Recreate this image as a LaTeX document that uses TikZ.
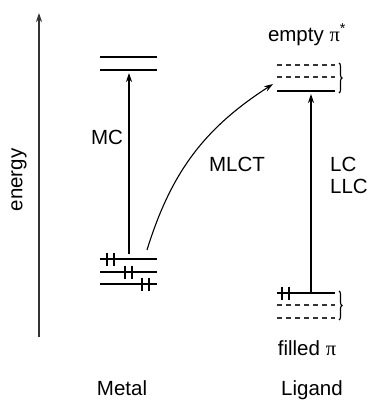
\documentclass[tikz,border=0pt]{standalone}
\usepackage{fontspec}
\setmainfont{Liberation Sans}
\newfontfamily\serifpi{Liberation Serif}
\usetikzlibrary{arrows.meta,decorations.pathreplacing}
\begin{document}
\begin{tikzpicture}[x=1pt,y=-1pt,
  level/.style={line width=1.8pt},
  dlevel/.style={line width=1.4pt,dash pattern=on 5pt off 4pt,black!80},
  tick/.style={line width=1.4pt},
  trans/.style={line width=1.1pt,-{Stealth[length=9pt,width=6pt]}},
  lbl/.style={font=\fontsize{20.5}{24}\selectfont,inner sep=0pt,anchor=base},
  brc/.style={line width=1.1pt,decorate,decoration={brace,amplitude=3pt}}]
\useasboundingbox (0,0) rectangle (369,400);
% energy axis
\coordinate (e0) at (39,337);
\coordinate (e1) at (39,13);
\draw[line width=1.1pt,black!80,-{Stealth[length=9pt,width=6pt]}] (e0) -- (e1);
\node[lbl,rotate=90] (energy) at (22.5,180) {energy};
% metal levels
\draw[level] (100,57) -- (157,57);
\draw[level] (100,70) -- (157,70);
\draw[level] (100,259) -- (157,259);
\draw[level] (100,272) -- (157,272);
\draw[level] (100,284) -- (157,284);
\foreach \x/\y in {107/259,114/259,125/272,132/272,142/284,149/284}
  \draw[tick] (\x,\y-6.5) -- (\x,\y+6.5);
% ligand levels
\draw[dlevel] (277,65) -- (335,65);
\draw[dlevel] (277,77) -- (335,77);
\draw[level] (277,91) -- (335,91);
\draw[brc] (339,63) -- (339,93);
\draw[level] (277,293) -- (335,293);
\draw[dlevel] (277,305) -- (335,305);
\draw[dlevel] (277,318) -- (335,318);
\draw[brc] (339,291) -- (339,320);
\foreach \x in {282,289}
  \draw[tick] (\x,293-6.5) -- (\x,293+6.5);
% transitions
\coordinate (mcA) at (129,254);
\coordinate (mcB) at (129,73);
\coordinate (lcA) at (311,293);
\coordinate (lcB) at (311,94);
\coordinate (mlA) at (147,250);
\coordinate (mlB) at (273,84);
\draw[trans] (mcA) -- (mcB);
\draw[trans] (lcA) -- (lcB);
\draw[trans] (mlA) to[bend left=20] (mlB);
% labels
\node[lbl] (mc) at (107,144.5) {MC};
\node[lbl] (mlct) at (237,171.5) {MLCT};
\node[lbl,anchor=base west] (lc) at (330,171) {LC};
\node[lbl,anchor=base west] (llc) at (330,193) {LLC};
\node[lbl] (empty) at (307,41) {empty {\serifpi π}\textsuperscript{*}};
\node[lbl] (filled) at (307,355) {filled {\serifpi π}};
\node[lbl] (metal) at (122,395) {Metal};
\node[lbl] (ligand) at (312,395) {Ligand};
\end{tikzpicture}
\end{document}
